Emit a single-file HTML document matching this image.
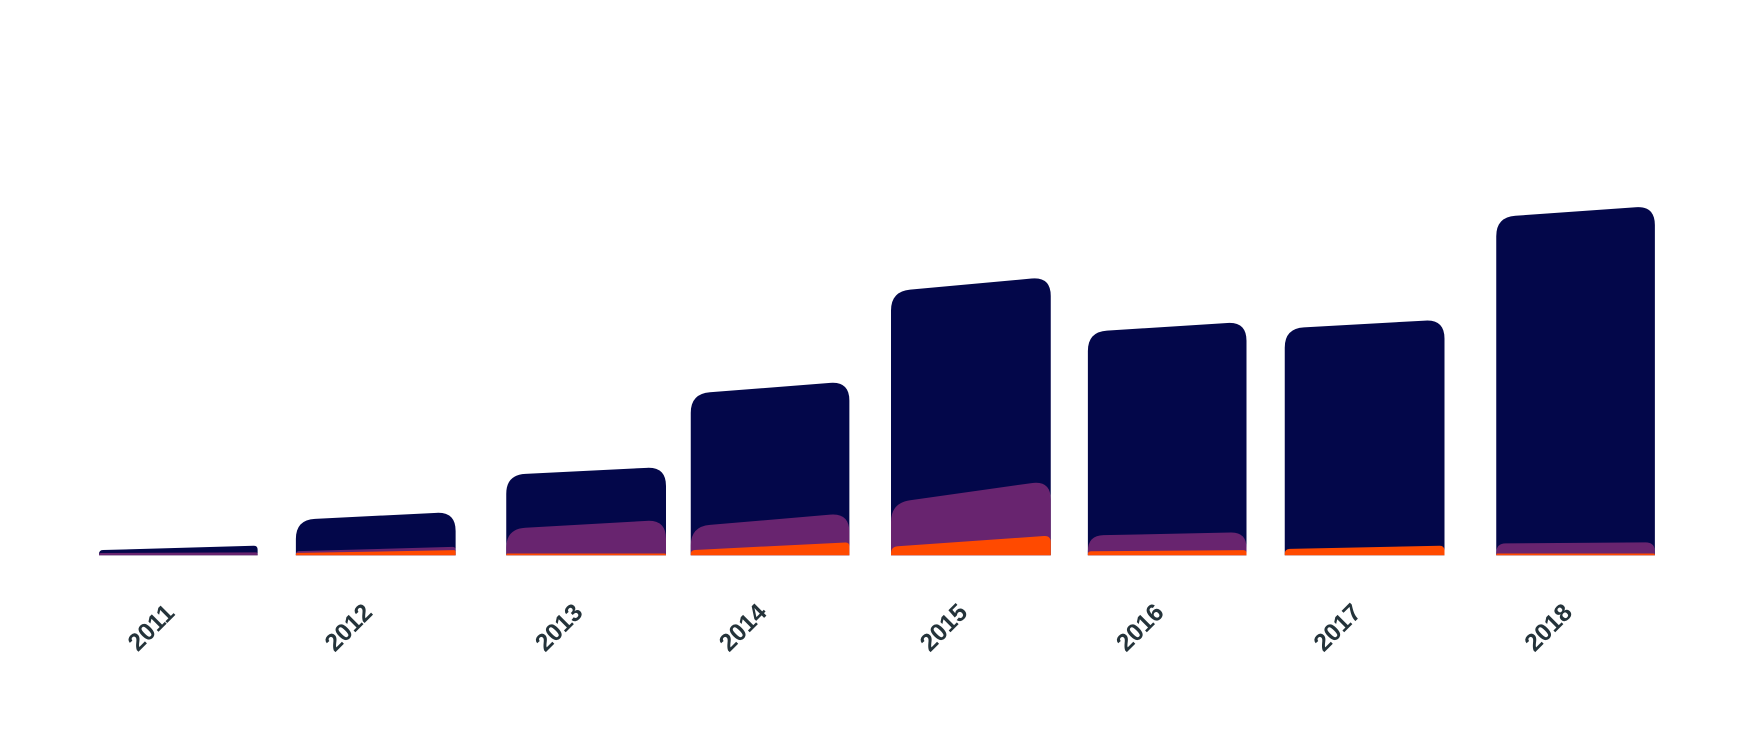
<!DOCTYPE html>
<html><head><meta charset="utf-8"><style>
html,body{margin:0;padding:0;background:#fff;width:1764px;height:754px;overflow:hidden}
svg{display:block}
text{font-family:"Liberation Sans","DejaVu Sans",sans-serif;font-weight:bold;font-size:22px;fill:#24333a}
</style></head><body>
<svg id="c" width="1764" height="754" viewBox="0 0 1568 670.2" preserveAspectRatio="none" xmlns="http://www.w3.org/2000/svg"></svg>
<script>
var svg=document.getElementById('c'),NS='http://www.w3.org/2000/svg',B=493.5;
var bars=[
 {x0:88,x1:229,n:[489,485],p:[491.5,491],o:null,y:'2011'},
 {x0:263,x1:405,n:[462,455],p:[490,486],o:[491.5,489],y:'2012'},
 {x0:450,x1:592,n:[422,415],p:[470,462],o:[492,492],y:'2013'},
 {x0:614,x1:755,n:[350,339],p:[468,456],o:[489,482],y:'2014'},
 {x0:792,x1:934,n:[259,246],p:[447,427],o:[486,476],y:'2015'},
 {x0:967,x1:1108,n:[295,286],p:[476,473],o:[490,489],y:'2016'},
 {x0:1142,x1:1284,n:[292,284],p:null,o:[488,485],y:'2017'},
 {x0:1330,x1:1471,n:[193,183],p:[483,482],o:[492,492],y:'2018'}
];
function shape(x0,x1,yl,yr,col){
 var h=B-Math.max(yl,yr);var r=Math.min(17,Math.max(1,h*0.8));
 var s=(yr-yl)/(x1-x0);
 var d='M'+x0+','+B+' L'+x0+','+(yl+r)+' Q'+x0+','+yl+' '+(x0+r)+','+(yl+s*r)+
 ' L'+(x1-r)+','+(yr-s*r)+' Q'+x1+','+yr+' '+x1+','+(yr+r)+' L'+x1+','+B+' Z';
 var p=document.createElementNS(NS,'path');p.setAttribute('d',d);p.setAttribute('fill',col);svg.appendChild(p);
}
bars.forEach(function(b){
 shape(b.x0,b.x1,b.n[0],b.n[1],'#03074a');
 if(b.p)shape(b.x0,b.x1,b.p[0],b.p[1],'#68246f');
 if(b.o)shape(b.x0,b.x1,b.o[0],b.o[1],'#ff4a00');
 var t=document.createElementNS(NS,'text');var cx=(b.x0+b.x1)/2-24;
 t.setAttribute('x',cx);t.setAttribute('y',565);t.setAttribute('text-anchor','middle');
 t.setAttribute('transform','rotate(-45 '+cx+' 558)');t.textContent=b.y;svg.appendChild(t);
});
</script>
</body></html>
